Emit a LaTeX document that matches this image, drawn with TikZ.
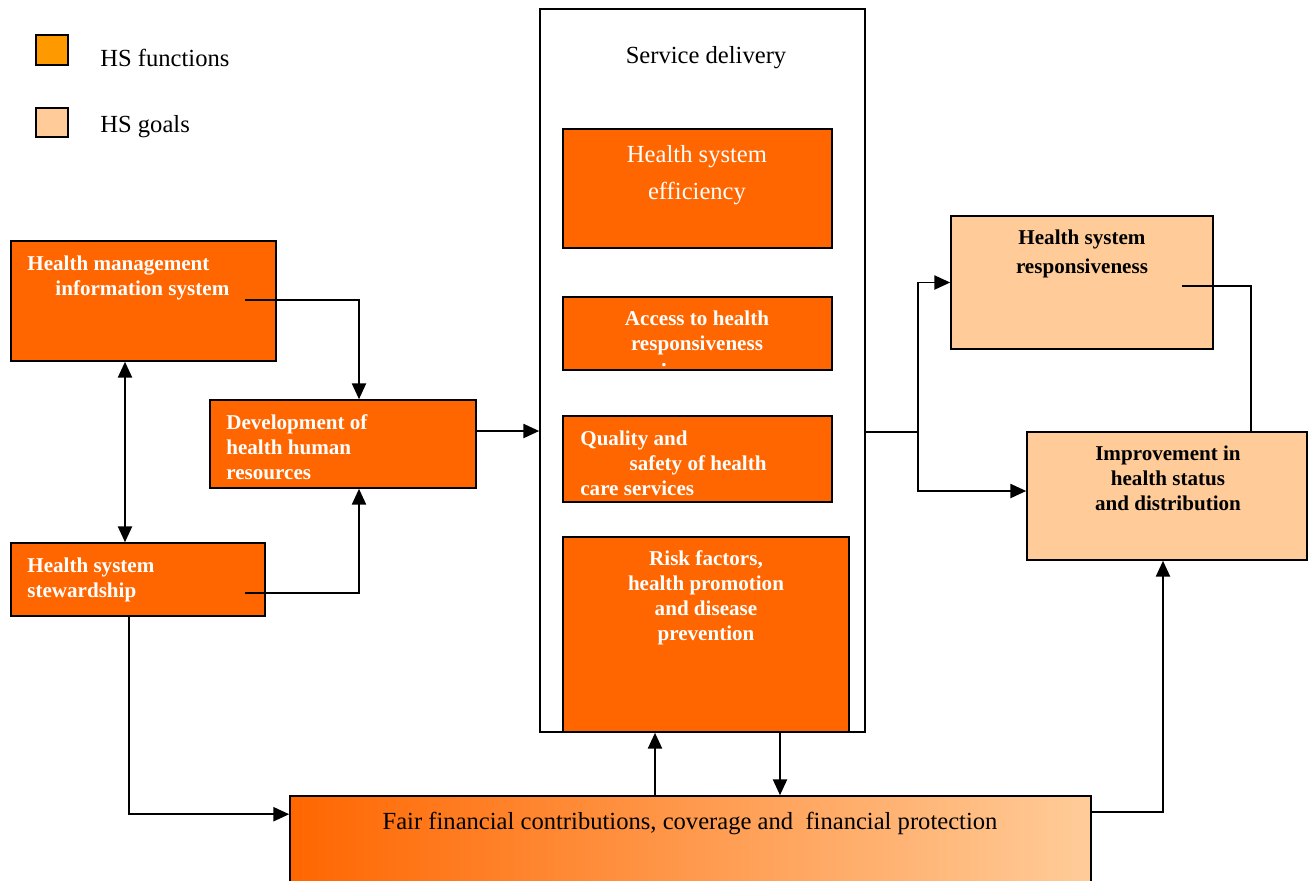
\documentclass[tikz,border=0pt]{standalone}
\usepackage{fontspec}
\setmainfont{Liberation Serif}
\usetikzlibrary{positioning, fit, calc, arrows.meta}

\definecolor{hsorange}{HTML}{FF6600}
\definecolor{hsfunc}{HTML}{FF9900}
\definecolor{hsgoal}{HTML}{FFCC99}

\tikzset{
  fnbox/.style={draw, fill=hsorange, line width=0.9pt, inner sep=0pt},
  goalbox/.style={draw, fill=hsgoal, line width=0.9pt, inner sep=0pt},
  keybox/.style={draw, line width=1.2pt, inner sep=0pt},
  wtxt/.style={text=white, font=\bfseries\fontsize{12}{14.2}\selectfont, inner sep=0pt},
  btxt/.style={text=black, font=\bfseries\fontsize{12}{14}\selectfont, inner sep=0pt},
  link/.style={line width=1.1pt, -{Triangle[length=9pt,width=8pt]}},
  plain/.style={line width=1.1pt},
}

\begin{document}
\begin{tikzpicture}[x=0.02cm, y=-0.02cm]
  \useasboundingbox (0,0) rectangle (1309,880);

  % Legend
  \node[keybox, fill=hsfunc, fit={(36,35) (68,65)}] (keyFn) {};
  \node[keybox, fill=hsgoal, fit={(36,108) (68,137)}] (keyGoal) {};
  \node[anchor=west, inner sep=0pt, font=\fontsize{14}{16}\selectfont] (keyFnTxt) at (100,58) {HS functions};
  \node[anchor=west, inner sep=0pt, font=\fontsize{14}{16}\selectfont] (keyGoalTxt) at (100,127) {HS goals};

  % Service delivery frame with its four boxes
  \node[draw, fill=white, line width=0.9pt, inner sep=0pt, fit={(540,9) (865,732)}] (svc) {};
  \node[inner sep=0pt, font=\fontsize{14}{16}\selectfont] (svcTxt) at (706,58) {Service delivery};

  \node[fnbox, fit={(563,129) (832,248)}] (effic) {};
  \node[anchor=north, align=center, text=white, inner sep=0pt, font=\fontsize{14}{21}\selectfont] (efficTxt) at (697,145) {Health system\\efficiency};

  \node[fnbox, fit={(563,297) (832,370)}] (access) {};
  \node[wtxt, anchor=north, align=center] (accessTxt) at (697,311) {Access to health\\responsiveness};
  \node[wtxt, anchor=south] (accessDot) at (664,367) {.};

  \node[fnbox, fit={(563,416) (832,502)}] (quality) {};
  \node[wtxt, anchor=north west, align=left] (qualityTxt) at (580,431) {Quality and\\\hspace*{28pt}safety of health\\care services};

  \node[fnbox, fit={(563,537) (849,732)}] (risk) {};
  \node[wtxt, anchor=north, align=center] (riskTxt) at (706,550) {Risk factors,\\health promotion\\and disease\\prevention};

  % Left-hand functions
  \node[fnbox, fit={(11,241) (276,361)}] (hmis) {};
  \node[wtxt, anchor=north west, align=left] (hmisTxt) at (27,256) {Health management\\\hspace*{16pt}information system};

  \node[fnbox, fit={(210,400) (476,488)}] (dev) {};
  \node[wtxt, anchor=north west, align=left] (devTxt) at (226,414) {Development of\\health human\\resources};

  \node[fnbox, fit={(11,543) (265,616)}] (steward) {};
  \node[wtxt, anchor=north west, align=left] (stewardTxt) at (27,558) {Health system\\stewardship};

  % Goals
  \node[goalbox, fit={(951,216) (1213,349)}] (resp) {};
  \node[btxt, anchor=north, align=center, font=\bfseries\fontsize{12}{16.4}\selectfont] (respTxt) at (1082,230) {Health system\\responsiveness};

  \node[goalbox, fit={(1027,432) (1307,560)}] (improve) {};
  \node[btxt, anchor=north, align=center] (improveTxt) at (1168,446) {Improvement in\\health status\\and distribution};

  \node[draw, line width=0.9pt, inner sep=0pt, left color=hsorange, right color=hsgoal, fit={(290,796) (1091,900)}] (fair) {};
  \node[inner sep=0pt, font=\fontsize{14}{16}\selectfont] (fairTxt) at (690,823) {Fair financial contributions, coverage and\ \ financial protection};

  % Connectors
  \coordinate (hmisOut) at (245,300);
  \coordinate (stewardOut) at (245,593);
  \coordinate (respOut) at (1182,286);
  \coordinate (split) at (918,432);
  \coordinate (hmisDn) at ($(hmis.south)+(-18.5,0)$);
  \coordinate (stewardDn) at ($(steward.south)+(-9,0)$);
  \coordinate (fairUp) at ($(fair.north)+(-35.5,0)$);
  \coordinate (riskDn) at ($(risk.south)+(74,0)$);
  \coordinate (devOut) at ($(dev.east)+(0,-13)$);

  \draw[link] (hmisOut) -| ($(dev.north)+(16,0)$);
  \draw[link] (stewardOut) -| ($(dev.south)+(16,0)$);
  \draw[link, {Triangle[length=9pt,width=8pt]}-{Triangle[length=9pt,width=8pt]}] (hmisDn) -- (hmisDn |- steward.north);
  \draw[link] (devOut) -- (devOut -| svc.west);
  \draw[link] (stewardDn) |- ($(fair.north west)+(0,19)$);
  \draw[link] (fairUp) -- (fairUp |- risk.south);
  \draw[link] (riskDn) -- (riskDn |- fair.north);
  \draw[link] ($(fair.north east)+(0,17)$) -| ($(improve.south)+(-4,0)$);
  \draw[plain] (svc.east |- split) -- (split);
  \draw[link] (split) |- (resp.west);
  \draw[link] (split) |- ($(improve.west)+(0,-5)$);
  \draw[plain] (respOut) -| ($(improve.north)+(84,0)$);
\end{tikzpicture}
\end{document}
